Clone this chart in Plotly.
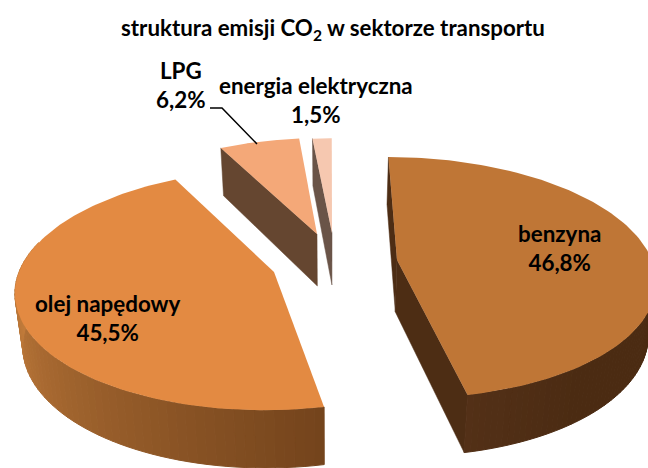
import numpy as np
import plotly.graph_objects as go

# --- data ---
categories = ["benzyna", "olej napędowy", "LPG", "energia elektryczna"]
values = [46.8, 45.5, 6.2, 1.5]
title_text = "struktura emisji CO<sub>2</sub> w sektorze transportu"

# --- styles and geometry of the tilted pie ---
top_colors = ["#BF7636", "#E38A42", "#F4A878", "#F6C8B0"]
cut_colors = ["#4D2D14", "#6E4018", "#654630", "#6A5448"]
rim_from = ["#533017", "#74441C", "#654630", "#6A5448"]
rim_to = ["#4B2B12", "#D08641", "#654630", "#6A5448"]
apex_x = [397, 274, 317, 332]
apex_y = [260, 272, 234, 233]
slice_scale = [1.0, 1.0, 0.93, 0.92]
RX, RY, P, X0, THICK = 255.0, 118.0, 0.146, 330.0, 52.0
label_xy = [(559, 248), (108, 318), (181, 85), (316, 100)]


def project(i, theta, r=1.0):
    t = np.radians(theta)
    X, Y = r * np.sin(t), r * np.cos(t)
    w = 1 + P * Y
    s = slice_scale[i]
    x = X0 + ((apex_x[i] - X0) + s * RX * X) / w
    y = apex_y[i] - s * RY * Y / w
    return x, y, w


def lower(i, theta, r=1.0):
    x, y, w = project(i, theta, r)
    Y = r * np.cos(np.radians(theta))
    return X0 + (x - X0) * 0.975, y + THICK / (1 + 0.1 * Y)


def hex2rgb(c):
    return np.array([int(c[k:k + 2], 16) for k in (1, 3, 5)], float)


def mix(a, b, f):
    v = hex2rgb(a) * (1 - f) + hex2rgb(b) * f
    return "rgb(%d,%d,%d)" % tuple(v.round())


fig = go.Figure()


def poly(xs, ys, color, lw=0.0):
    fig.add_trace(go.Scatter(
        x=list(xs) + [xs[0]], y=list(ys) + [ys[0]], mode="lines", fill="toself",
        fillcolor=color, line=dict(color=color, width=lw), hoverinfo="skip",
        showlegend=False))


def cut_face(i, theta, color):
    x1, y1, _ = project(i, theta)
    x2, y2 = lower(i, theta)
    x3, y3 = lower(i, theta, 0.0)
    x4, y4, _ = project(i, theta, 0.0)
    poly([x1, x2, x3, x4], [y1, y2, y3, y4], color, 0.5)


starts = 360 * np.concatenate([[0], np.cumsum(values)[:-1]]) / sum(values)
ends = 360 * np.cumsum(values) / sum(values)

for i in range(len(values)):
    a, b = starts[i], ends[i]
    # cut faces that face the viewer
    if i == 0:
        cut_face(i, a, cut_colors[i])
        cut_face(i, b, cut_colors[i])
    if i >= 2:
        cut_face(i, a, cut_colors[i])
    # outer rim, as shaded strips
    lo, hi = max(a, 90), min(b, 285)
    if hi > lo and i < 2:
        edges = np.linspace(lo, hi, 61)
        for k in range(60):
            t0, t1 = edges[k], edges[k + 1]
            xa, ya, _ = project(i, t0)
            xb, yb, _ = project(i, t1)
            xc, yc = lower(i, t1)
            xd, yd = lower(i, t0)
            f = min(1.0, 3 * abs(b - t0) / (hi - lo)) if i == 0 else (t0 - lo) / (hi - lo)
            poly([xa, xb, xc, xd], [ya, yb, yc, yd], mix(rim_from[i], rim_to[i], f), 1.0)
    # top face
    th = np.linspace(a, b, 120)
    xs, ys, _ = project(i, th)
    ax, ay, _ = project(i, a, 0.0)
    poly(list(xs) + [ax], list(ys) + [ay], top_colors[i])

# leader line of the LPG label
fig.add_trace(go.Scatter(x=[210, 222, 257], y=[108, 108, 144], mode="lines",
                         line=dict(color="black", width=1.5), hoverinfo="skip",
                         showlegend=False))

annotations = []
for name, v, (lx, ly) in zip(categories, values, label_xy):
    annotations.append(dict(
        x=lx, y=ly, xref="x", yref="y", showarrow=False, align="center",
        text="<b>%s<br>%s%%</b>" % (name, f"{v:.1f}".replace(".", ",")),
        font=dict(family="Lato", size=22.4, color="black")))
annotations.append(dict(
    x=333, y=29, xref="x", yref="y", showarrow=False,
    text="<b>%s</b>" % title_text, font=dict(family="Lato", size=22.3, color="black")))

fig.update_layout(
    width=648, height=468, margin=dict(l=0, r=0, t=0, b=0),
    paper_bgcolor="white", plot_bgcolor="white", showlegend=False,
    xaxis=dict(range=[0, 648], visible=False, fixedrange=True),
    yaxis=dict(range=[468, 0], visible=False, fixedrange=True),
    annotations=annotations)

fig.write_html("out.html", config={"displayModeBar": False},
               post_script="document.body.style.margin='0';document.body.style.overflow='hidden';")
